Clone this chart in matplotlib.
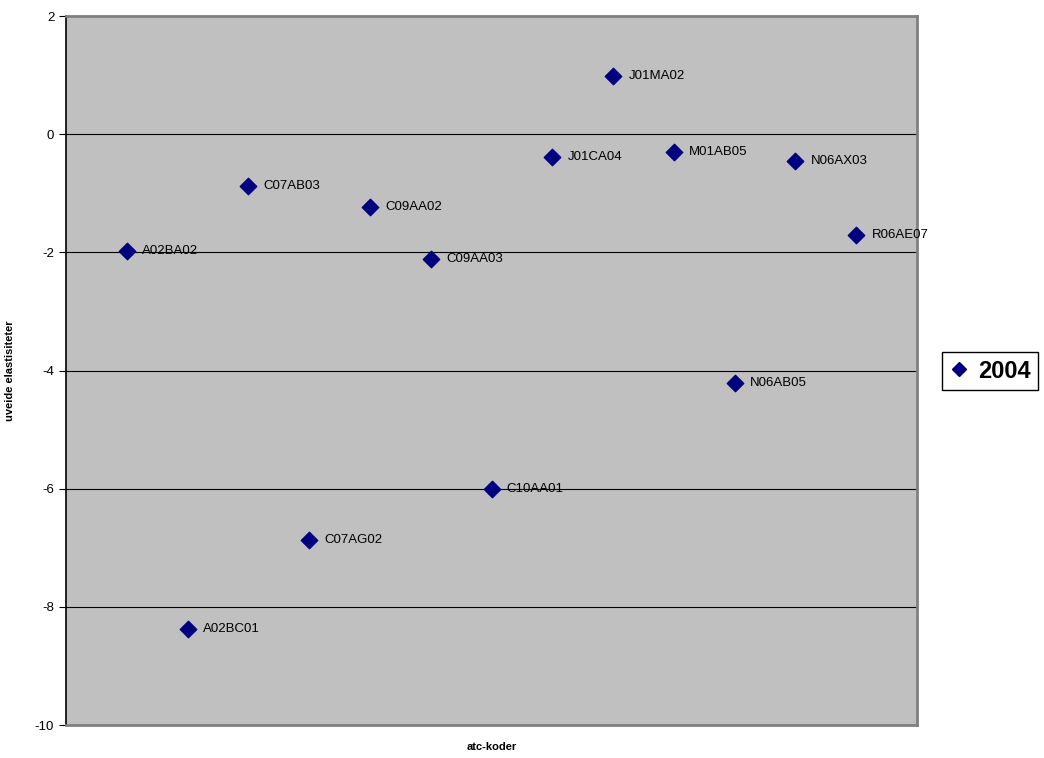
import matplotlib.pyplot as plt
from matplotlib.lines import Line2D

plt.rcParams['font.family'] = ['Liberation Sans', 'DejaVu Sans']
plt.rcParams['axes.unicode_minus'] = False

atc_codes = ["A02BA02", "A02BC01", "C07AB03", "C07AG02", "C09AA02", "C09AA03", "C10AA01",
             "J01CA04", "J01MA02", "M01AB05", "N06AB05", "N06AX03", "R06AE07"]
positions = list(range(1, len(atc_codes) + 1))
elasticities = [-1.98, -8.38, -0.88, -6.87, -1.24, -2.12, -6.01,
                -0.39, 0.98, -0.30, -4.21, -0.46, -1.71]
y_ticks = [-10, -8, -6, -4, -2, 0, 2]

fig = plt.figure(figsize=(10.44, 7.58), dpi=100)
ax = fig.add_axes([66 / 1044, 33 / 758, 851 / 1044, 709 / 758])
ax.set_facecolor('#c0c0c0')

ax.scatter(positions, elasticities, marker='D', s=70, color='#000080', zorder=3)
for x, y, name in zip(positions, elasticities, atc_codes):
    ax.annotate(name, (x, y), xytext=(11, 0), textcoords='offset points',
                va='center', ha='left', fontsize=9.5, color='black')

ax.set_xlim(0, 14)
ax.set_ylim(-10, 2)
ax.set_yticks(y_ticks)
ax.set_xticks([])
ax.grid(axis='y', color='black', linewidth=0.8)
ax.set_axisbelow(True)
ax.tick_params(axis='y', direction='out', length=5, labelsize=9.5)

for side in ['top', 'right', 'bottom']:
    ax.spines[side].set_color('#808080')
    ax.spines[side].set_linewidth(2)
ax.spines['left'].set_color('black')
ax.spines['left'].set_linewidth(1.2)

ax.set_xlabel("atc-koder", fontsize=8, fontweight='bold')
ax.xaxis.set_label_coords(0.5, -17 / 709)
ax.set_ylabel("uveide elastisiteter", fontsize=8, fontweight='bold')
ax.yaxis.set_label_coords(-51 / 851, 0.5)

handle = Line2D([], [], marker='D', linestyle='none', color='#000080', markersize=7)
leg = fig.legend([handle], ["2004"], loc='center', bbox_to_anchor=(990 / 1044, 1 - 371 / 758),
                 prop={'size': 17, 'weight': 'bold'}, fancybox=False, framealpha=1,
                 edgecolor='black', handlelength=0.8, handletextpad=0.4, borderpad=0.3)
leg.get_frame().set_linewidth(1)

fig.savefig('out.png', dpi=100)
